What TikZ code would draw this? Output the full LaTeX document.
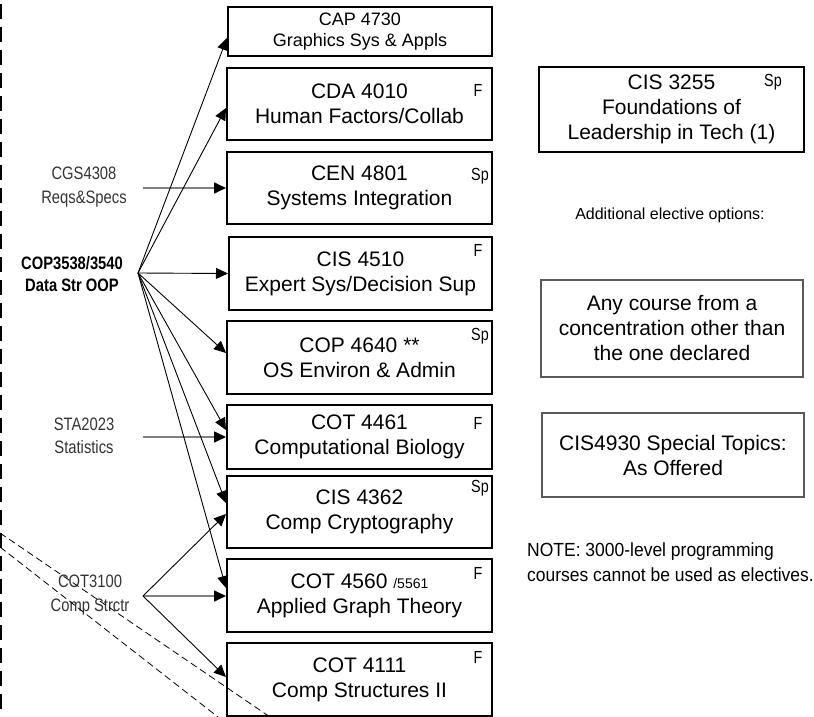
\documentclass[tikz,border=0pt]{standalone}
\usepackage{fontspec}
\setmainfont{Liberation Sans}
\newfontfamily\narrowfont[FakeStretch=0.82]{Liberation Sans}
\newfontfamily\notefont[FakeStretch=0.92]{Liberation Sans}
\usetikzlibrary{arrows.meta}
\begin{document}
\begin{tikzpicture}[x=1pt,y=-1pt,
  course/.style={draw=black, line width=2pt, minimum width=265pt, minimum height=72pt,
    inner sep=0pt, align=center, font=\fontsize{21}{25}\selectfont},
  optbox/.style={draw=black!65, line width=1.2pt, minimum width=262pt,
    inner sep=0pt, align=center, font=\fontsize{21}{25}\selectfont},
  flag/.style={inner sep=0pt, font=\narrowfont\fontsize{17.5}{19}\selectfont},
  lbl/.style={inner sep=0pt, align=center, text=black!80, font=\narrowfont\fontsize{18}{23.5}\selectfont},
  arr/.style={draw=black, line width=0.9pt, -{Triangle[length=12pt,width=11pt]}},
  garr/.style={draw=black!50, line width=1.6pt, -{Triangle[length=12pt,width=11pt,color=black]}},
  diag/.style={draw=black, line width=0.8pt, dash pattern=on 7pt off 4pt}
]
\useasboundingbox (0,0) rectangle (814,717);

% left dashed border
\draw[line width=2.4pt, dash pattern=on 15pt off 8pt, dash phase=19pt] (1.2,0) -- (1.2,717);

% course boxes
\node[course, minimum width=264pt, minimum height=49pt, font=\fontsize{18}{21.5}\selectfont]
  (cap) at (360,31.5) {CAP 4730\\Graphics Sys \& Appls};
\node[course] (cda) at (359.5,104) {CDA 4010\\Human Factors/Collab};
\node[course] (cen) at (359.5,188) {CEN 4801\\Systems Integration};
\node[course, minimum width=263pt, minimum height=73pt] (cisa) at (360.5,273.5) {CIS 4510\\Expert Sys/Decision Sup};
\node[course, minimum height=73pt] (copa) at (359.5,357.5) {COP 4640 **\\OS Environ \& Admin};
\node[course, minimum height=64pt] (cota) at (359.5,437) {COT 4461\\Computational Biology};
\node[course] (cisb) at (359.5,512) {CIS 4362\\Comp Cryptography};
\node[course, minimum height=73pt] (cotb) at (359.5,595.5) {COT 4560 {\fontsize{14}{16}\selectfont/5561}\\Applied Graph Theory};
\node[course, minimum height=73pt] (cotc) at (359.5,679.5) {COT 4111\\Comp Structures II};

% semester flags
\node[flag] (fcda) at (478,90) {F};
\node[flag] (fcen) at (480,176) {Sp};
\node[flag] (fcisa) at (478,250) {F};
\node[flag] (fcopa) at (480,336) {Sp};
\node[flag] (fcota) at (478,423) {F};
\node[flag] (fcisb) at (480,488) {Sp};
\node[flag] (fcotb) at (478,573) {F};
\node[flag] (fcotc) at (478,657) {F};

% right column
\node[course, minimum width=265pt, minimum height=85pt] (lead) at (671.5,109.5)
  {CIS 3255\\Foundations of\\Leadership in Tech (1)};
\node[flag] (flead) at (773,82) {Sp};
\node[inner sep=0pt, font=\fontsize{16}{19}\selectfont] (addl) at (670,215) {Additional elective options:};
\node[optbox, minimum height=97pt] (anyc) at (672,328.5)
  {Any course from a\\concentration other than\\the one declared};
\node[optbox, minimum height=84pt] (spec) at (673,455) {CIS4930 Special Topics:\\As Offered};
\node[inner sep=0pt, anchor=west, align=left, font=\notefont\fontsize{19}{25}\selectfont]
  (note) at (527,562.5) {NOTE: 3000-level programming\\courses cannot be used as electives.};

% left prerequisite labels
\node[lbl] (cgs) at (84,187) {CGS4308\\Reqs\&Specs};
\node[lbl, text=black, font=\narrowfont\bfseries\fontsize{18}{22}\selectfont] (cop) at (72,274) {COP3538/3540\\Data Str OOP};
\node[lbl] (sta) at (84,436) {STA2023\\Statistics};
\node[lbl] (cot) at (90,595) {COT3100\\Comp Strctr};

\coordinate (cgsout) at (143,188);
\coordinate (copout) at (138,273);
\coordinate (staout) at (143,437);
\coordinate (cotout) at (143,596);

% connectors
\draw[garr] (cgsout) -- (cen.west);
\draw[garr] (staout) -- (cota.west);
\draw[garr] (cotout) -- ([yshift=-0.5pt]cotb.west);

\draw[arr] (copout) -- ([yshift=-6.5pt]cap.west);
\draw[arr] (copout) -- ([yshift=-4pt]cda.west);
\draw[arr] (copout) -- (cisa.west);
\draw[arr] (copout) -- ([yshift=4.5pt]copa.west);
\draw[arr] (copout) -- ([yshift=7pt]cota.west);
\draw[arr] (copout) -- ([yshift=9pt]cisb.west);
\draw[arr] (copout) -- ([yshift=7.5pt]cotb.west);

\draw[arr] (cotout) -- ([yshift=-2pt]cisb.west);
\draw[arr] (cotout) -- ([yshift=2.5pt]cotc.west);

% dashed diagonals
\draw[diag] (0,533) -- (270,717);
\draw[diag] (0,547) -- (218,717);
\end{tikzpicture}
\end{document}
